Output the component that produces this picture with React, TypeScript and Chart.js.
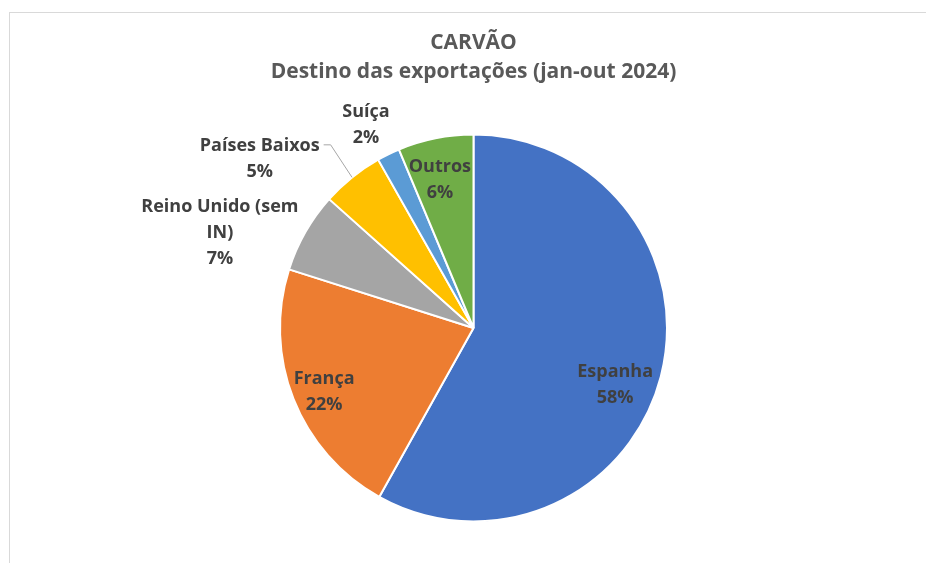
import React, { useEffect, useRef } from 'react';
import { Chart, registerables } from 'chart.js';

Chart.register(...registerables);

const titleLines = ['CARVÃO', 'Destino das exportações (jan-out 2024)'];
const categories = ['Espanha', 'França', 'Reino Unido (sem IN)', 'Países Baixos', 'Suíça', 'Outros'];
const shares = [58.1, 21.8, 6.7, 5.2, 1.9, 6.3];
const percentLabels = ['58%', '22%', '7%', '5%', '2%', '6%'];
const labelLines = [['Espanha'], ['França'], ['Reino Unido (sem', 'IN)'], ['Países Baixos'], ['Suíça'], ['Outros']];
const colors = ['#4472C4', '#ED7D31', '#A5A5A5', '#FFC000', '#5B9BD5', '#70AD47'];

// label placement (style): angle offset from slice middle (deg) and distance as a fraction of radius
const labelPlacement = [
  { da: 6.8, f: 0.786 },
  { da: -1.25, f: 0.838 },
  { da: -8.9, f: 1.402 },
  { da: -12.6, f: 1.412 },
  { da: -1.7, f: 1.192 },
  { da: -1.3, f: 0.794 },
];
const leaderFor = [false, false, false, true, false, false];

const FONT = '"Open Sans", Lato, sans-serif';

const labelPlugin = {
  id: 'customLabels',
  afterDatasetsDraw(chart: any) {
    const ctx = chart.ctx as CanvasRenderingContext2D;
    const area = chart.chartArea;
    ctx.save();
    // title
    ctx.fillStyle = '#595959';
    ctx.textAlign = 'center';
    ctx.textBaseline = 'alphabetic';
    ctx.font = `bold 21px ${FONT}`;
    const cx = (area.left + area.right) / 2;
    ctx.fillText(titleLines[0], cx, 48.5);
    ctx.fillText(titleLines[1], cx, 78);

    const meta = chart.getDatasetMeta(0);
    const lh = 26;
    ctx.font = `bold 18px ${FONT}`;
    meta.data.forEach((arc: any, i: number) => {
      const p = arc.getProps(['x', 'y', 'startAngle', 'endAngle', 'outerRadius'], true);
      const mid = (p.startAngle + p.endAngle) / 2;
      const a = mid + (labelPlacement[i].da * Math.PI) / 180;
      const ax = p.x + Math.cos(a) * p.outerRadius * labelPlacement[i].f;
      const ay = p.y + Math.sin(a) * p.outerRadius * labelPlacement[i].f;
      const lines = [...labelLines[i], percentLabels[i]];
      const n = lines.length;
      ctx.fillStyle = '#404040';
      ctx.textAlign = 'center';
      lines.forEach((t, k) => {
        ctx.fillText(t, ax, ay + (k - (n - 1) / 2) * lh + 6.5);
      });
      if (leaderFor[i]) {
        const w = ctx.measureText(lines[0]).width;
        const sx = ax + w / 2 + 4;
        const sy = ay - ((n - 1) / 2) * lh;
        const ex = p.x + Math.cos(mid) * p.outerRadius;
        const ey = p.y + Math.sin(mid) * p.outerRadius;
        ctx.strokeStyle = '#A6A6A6';
        ctx.lineWidth = 1;
        ctx.beginPath();
        ctx.moveTo(sx, sy);
        ctx.lineTo(sx + 7, sy);
        ctx.lineTo(ex, ey);
        ctx.stroke();
      }
    });
    ctx.restore();
  },
};

export default function App() {
  const ref = useRef<HTMLCanvasElement | null>(null);
  useEffect(() => {
    if (!ref.current) return;
    const chart = new Chart(ref.current, {
      type: 'pie',
      data: {
        labels: categories,
        datasets: [
          {
            data: shares,
            backgroundColor: colors,
            borderColor: '#FFFFFF',
            borderWidth: 2,
            hoverOffset: 0,
          },
        ],
      },
      options: {
        responsive: false,
        animation: false,
        events: [],
        layout: { padding: { left: 279, right: 258, top: 133, bottom: 40 } },
        plugins: {
          legend: { display: false },
          title: { display: false },
          tooltip: { enabled: false },
        },
      },
      plugins: [labelPlugin],
    });
    return () => chart.destroy();
  }, []);

  return (
    <div style={{ position: 'absolute', left: 0, top: 0, width: 926, height: 563, overflow: 'hidden', background: '#fff' }}>
      <div
        style={{
          position: 'absolute',
          left: 9,
          top: 12,
          width: 1200,
          height: 1000,
          border: '1px solid #D9D9D9',
          boxSizing: 'border-box',
        }}
      />
      <canvas ref={ref} width={926} height={563} style={{ position: 'absolute', left: 0, top: 0 }} />
    </div>
  );
}
